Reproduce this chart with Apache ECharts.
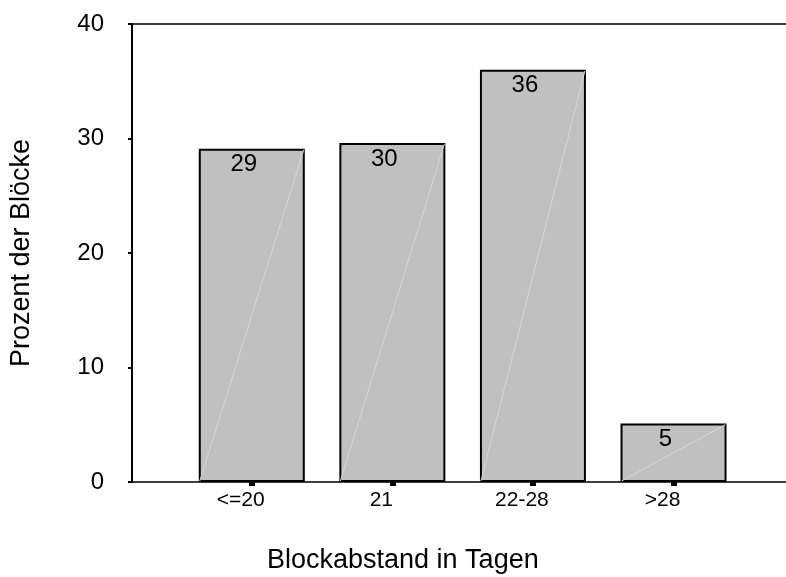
<!DOCTYPE html>
<html>
<head>
<meta charset="utf-8">
<script src="https://cdn.jsdelivr.net/npm/echarts@6/dist/echarts.min.js"></script>
<style>
html,body{margin:0;padding:0;background:#fff;}
#chart{width:786px;height:577px;}
</style>
</head>
<body>
<div id="chart"></div>
<script>
var categories = ['<=20', '21', '22-28', '>28'];
var positions = [1, 2, 3, 4];
var values = [29.1, 29.6, 36.0, 5.1];
var labels = ['29', '30', '36', '5'];
var yTicks = [0, 10, 20, 30, 40];

var FONT = '"Liberation Sans", Arial, sans-serif';
var BAR_W = 106;
var X_MIN = 0.148, X_MAX = 4.80;
var chart = echarts.init(document.getElementById('chart'));
var seriesData = positions.map(function (p, i) { return [p, values[i]]; });

chart.setOption({
  animation: false,
  backgroundColor: '#ffffff',
  grid: {
    left: 131, right: 0, top: 24, bottom: 95,
    show: false
  },
  xAxis: [{
    type: 'value',
    min: X_MIN, max: X_MAX,
    splitLine: { show: false },
    axisLine: { show: true, onZero: false, lineStyle: { color: '#000', width: 1.5 } },
    axisTick: { show: true, customValues: positions, length: 4, lineStyle: { color: '#000', width: 6 } },
    axisLabel: {
      customValues: positions,
      margin: 8,
      padding: [0, 22, 0, 0],
      color: '#000', fontSize: 21, fontFamily: FONT,
      formatter: function (v) { return categories[Math.round(v) - 1]; }
    }
  }, {
    type: 'value',
    position: 'top',
    min: X_MIN, max: X_MAX,
    splitLine: { show: false },
    axisLine: { show: true, onZero: false, lineStyle: { color: '#000', width: 1.5 } },
    axisTick: { show: false },
    axisLabel: { show: false }
  }],
  yAxis: {
    type: 'value',
    min: 0, max: 40, interval: 10,
    name: 'Prozent der Blöcke',
    nameLocation: 'middle',
    nameGap: 97,
    nameTextStyle: { color: '#000', fontSize: 27, fontFamily: FONT },
    splitLine: { show: false },
    axisLine: { show: true, lineStyle: { color: '#000', width: 2 } },
    axisTick: { show: true, length: 4, lineStyle: { color: '#000', width: 2 } },
    axisLabel: {
      margin: 28, color: '#000', fontSize: 24, fontFamily: FONT,
      formatter: function (v) { return yTicks.indexOf(v) >= 0 ? String(v) : ''; }
    }
  },
  graphic: [{
    type: 'text', left: 267, top: 547,
    style: { text: 'Blockabstand in Tagen', fill: '#000', font: '27px ' + FONT }
  }],
  series: [{
    type: 'bar',
    xAxisIndex: 0,
    data: seriesData,
    barWidth: BAR_W,
    itemStyle: { color: '#c0c0c0', borderColor: '#000', borderWidth: 2 },
    label: {
      show: true,
      position: 'insideTop',
      distance: 4,
      offset: [-8, 0],
      color: '#000', fontSize: 24, fontFamily: FONT,
      formatter: function (p) { return labels[p.dataIndex]; }
    },
    z: 2
  }, {
    type: 'custom',
    xAxisIndex: 0,
    data: seriesData,
    z: 3,
    silent: true,
    renderItem: function (params, api) {
      var base = api.coord([api.value(0), 0]);
      var top = api.coord([api.value(0), api.value(1)]);
      var h = BAR_W / 2 - 1;
      return {
        type: 'line',
        shape: { x1: base[0] - h, y1: base[1] - 1, x2: top[0] + h, y2: top[1] + 1 },
        style: { stroke: '#d6d6d6', lineWidth: 1 }
      };
    }
  }]
});
</script>
</body>
</html>
